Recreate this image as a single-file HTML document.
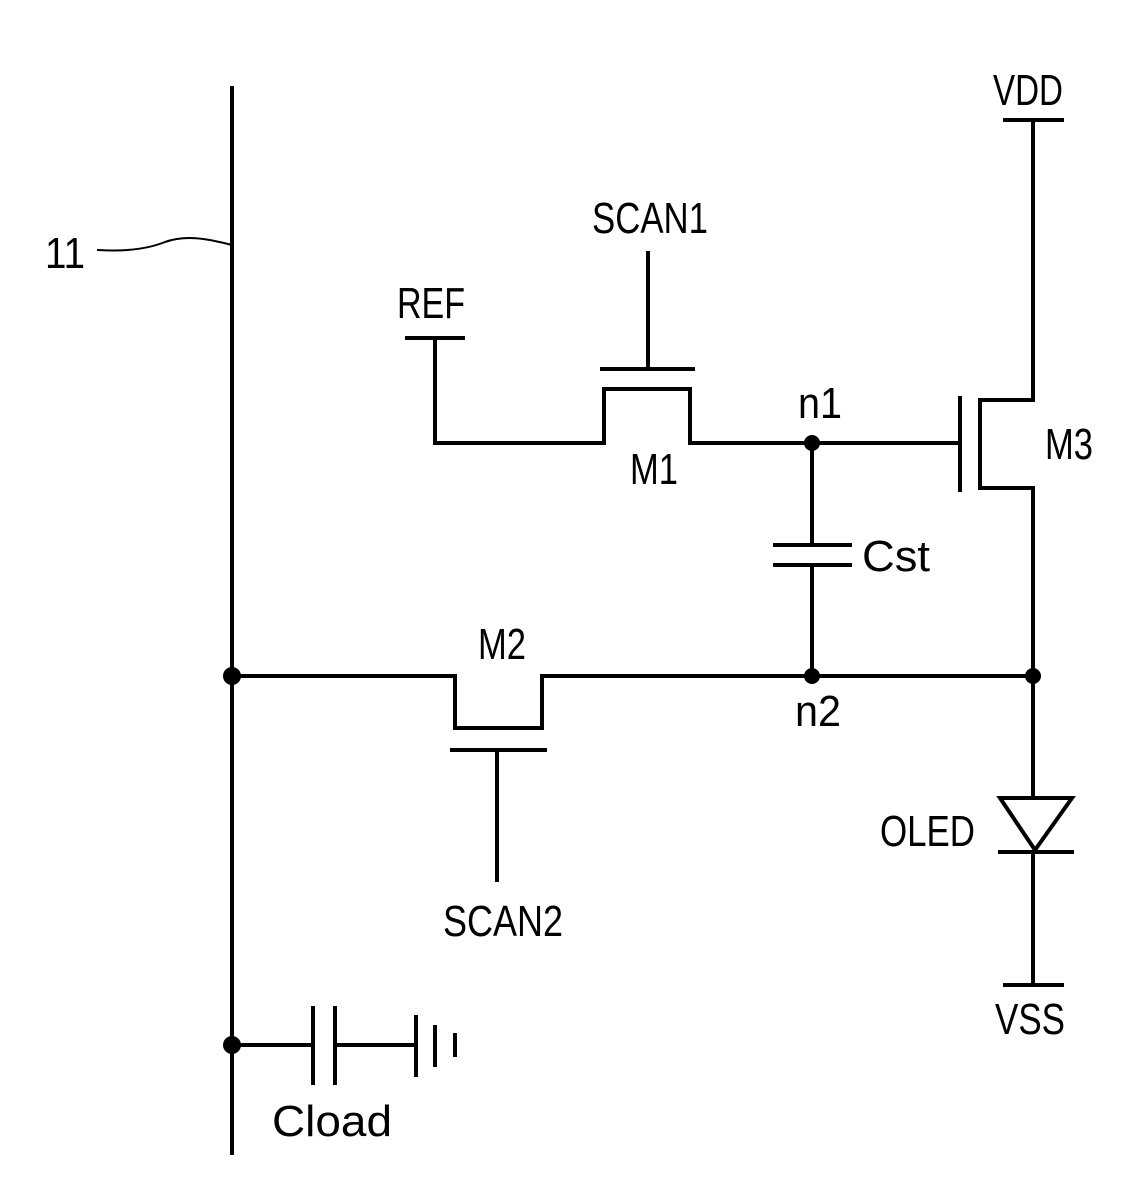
<!DOCTYPE html>
<html><head><style>body{margin:0;background:#fff}svg{display:block}</style></head>
<body>
<svg width="1125" height="1179" viewBox="0 0 1125 1179" xmlns="http://www.w3.org/2000/svg">
<g stroke="#000" stroke-width="4" fill="none" stroke-linecap="square">
<line x1="232" y1="88" x2="232" y2="1153"/>
<path d="M98 250 C130 252 150 248 165 242 C185 235 205 238 232 245" stroke-width="2"/>
<line x1="1005" y1="120" x2="1062" y2="120"/>
<polyline points="1033,120 1033,400 980,400 980,488 1033,488 1033,798"/>
<line x1="960" y1="398" x2="960" y2="490"/>
<line x1="812" y1="443" x2="960" y2="443"/>
<line x1="407" y1="338" x2="463" y2="338"/>
<polyline points="435,338 435,443 604,443 604,389 690,389 690,443 812,443"/>
<line x1="602" y1="369" x2="693" y2="369"/>
<line x1="648" y1="253" x2="648" y2="369"/>
<line x1="812" y1="443" x2="812" y2="545"/>
<line x1="775" y1="545" x2="850" y2="545"/>
<line x1="775" y1="565" x2="850" y2="565"/>
<line x1="812" y1="565" x2="812" y2="676"/>
<polyline points="232,676 455,676 455,728 542,728 542,676 1033,676"/>
<line x1="452" y1="750" x2="545" y2="750"/>
<line x1="497" y1="750" x2="497" y2="880"/>
<polygon points="1000,798 1072,798 1035,850" stroke-linejoin="miter"/>
<line x1="1000" y1="852" x2="1072" y2="852"/>
<line x1="1033" y1="852" x2="1033" y2="985"/>
<line x1="1005" y1="985" x2="1062" y2="985"/>
<line x1="232" y1="1045" x2="312" y2="1045"/>
<line x1="313" y1="1008" x2="313" y2="1083"/>
<line x1="335" y1="1008" x2="335" y2="1083"/>
<line x1="335" y1="1045" x2="416" y2="1045"/>
<line x1="416" y1="1017" x2="416" y2="1075"/>
<line x1="435" y1="1027" x2="435" y2="1065"/>
<line x1="455" y1="1035" x2="455" y2="1055"/>
</g>
<g fill="#000">
<circle cx="812" cy="443" r="8"/><circle cx="812" cy="676" r="8"/><circle cx="1033" cy="676" r="8"/>
<circle cx="232" cy="676" r="9"/><circle cx="232" cy="1045" r="9"/>
</g>
<g font-family="Liberation Sans, sans-serif" font-size="44" fill="#000">
<text x="45" y="268" textLength="40" lengthAdjust="spacingAndGlyphs">11</text>
<text x="993" y="105" textLength="70" lengthAdjust="spacingAndGlyphs">VDD</text>
<text x="592" y="233" textLength="116" lengthAdjust="spacingAndGlyphs">SCAN1</text>
<text x="397" y="318" textLength="68" lengthAdjust="spacingAndGlyphs">REF</text>
<text x="798" y="418" textLength="44" lengthAdjust="spacingAndGlyphs">n1</text>
<text x="1045" y="459" textLength="48" lengthAdjust="spacingAndGlyphs">M3</text>
<text x="630" y="484" textLength="48" lengthAdjust="spacingAndGlyphs">M1</text>
<text x="862" y="571" textLength="68" lengthAdjust="spacingAndGlyphs">Cst</text>
<text x="478" y="659" textLength="48" lengthAdjust="spacingAndGlyphs">M2</text>
<text x="795" y="726" textLength="46" lengthAdjust="spacingAndGlyphs">n2</text>
<text x="880" y="846" textLength="95" lengthAdjust="spacingAndGlyphs">OLED</text>
<text x="443" y="936" textLength="120" lengthAdjust="spacingAndGlyphs">SCAN2</text>
<text x="995" y="1034" textLength="70" lengthAdjust="spacingAndGlyphs">VSS</text>
<text x="272" y="1136" textLength="120" lengthAdjust="spacingAndGlyphs">Cload</text>
</g>
</svg>
</body></html>
